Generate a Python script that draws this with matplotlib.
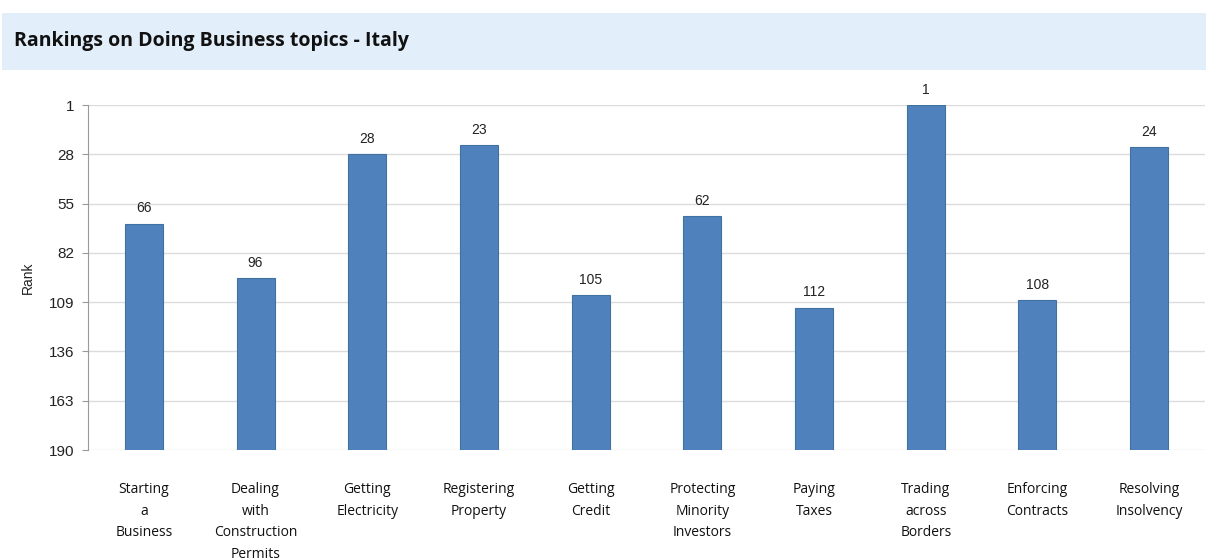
import matplotlib
matplotlib.use("Agg")
import matplotlib.pyplot as plt
import numpy as np
from matplotlib.patches import Rectangle

categories = ["Starting\na\nBusiness", "Dealing\nwith\nConstruction\nPermits", "Getting\nElectricity",
              "Registering\nProperty", "Getting\nCredit", "Protecting\nMinority\nInvestors",
              "Paying\nTaxes", "Trading\nacross\nBorders", "Enforcing\nContracts", "Resolving\nInsolvency"]
ranks = [66, 96, 28, 23, 105, 62, 112, 1, 108, 24]
yticks = [1, 28, 55, 82, 109, 136, 163, 190]
title = "Rankings on Doing Business topics - Italy"

W, H = 1206, 560
fig = plt.figure(figsize=(W / 100, H / 100), dpi=100)
fig.patch.set_facecolor("white")

# title banner
fig.patches.append(Rectangle((2 / W, 1 - 70 / H), (W - 2) / W, 57 / H, transform=fig.transFigure,
                             facecolor="#e2eef9", edgecolor="none", zorder=0))
fig.text(14 / W, 1 - 41 / H, title, fontsize=14, fontweight="bold", family="Open Sans",
         color="#111111", va="center", ha="left")

ax = fig.add_axes([88 / W, 1 - 450 / H, (1205 - 88) / W, (450 - 105) / H])
x = np.arange(len(ranks))
base = 190
ax.bar(x, np.array(ranks) - base, bottom=base, width=0.34, color="#4f81bd",
       edgecolor="#41719f", linewidth=0.8, zorder=3)
for xi, r in zip(x, ranks):
    ax.annotate(str(r), (xi, r), xytext=(0, 6), textcoords="offset points", ha="center", va="bottom",
                fontsize=10, family="Liberation Sans", color="#222222")

ax.set_xlim(-0.5, len(ranks) - 0.5)
ax.set_ylim(190, 1)
ax.set_yticks(yticks)
ax.set_yticklabels([str(t) for t in yticks], family="Liberation Sans", fontsize=11, color="#222222")
ax.yaxis.grid(True, color="#dcdcdc", linewidth=1, zorder=0)
ax.set_axisbelow(True)
for s in ["top", "right", "bottom"]:
    ax.spines[s].set_visible(False)
ax.spines["left"].set_color("#9a9a9a")
ax.tick_params(axis="y", length=4, color="#9a9a9a", pad=6)
ax.set_xticks(x)
ax.set_xticklabels(categories, family="Open Sans", fontsize=10, color="#111111", linespacing=1.6)
ax.tick_params(axis="x", length=0, pad=23)
ax.set_ylabel("Rank", family="Liberation Sans", fontsize=10, color="#222222", labelpad=10)

fig.savefig("out.png", dpi=100)
